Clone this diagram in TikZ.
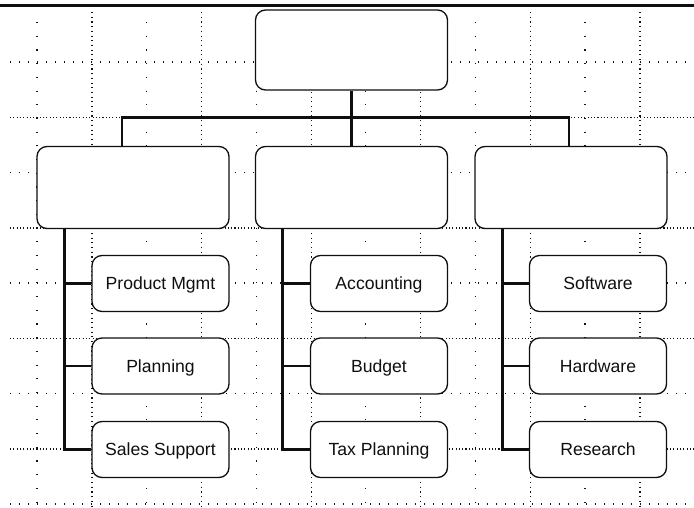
\documentclass[tikz,border=0pt]{standalone}
\usepackage{fontspec}
\usepackage{tikz}
\newfontfamily\boxfont{Liberation Sans}
\definecolor{ink}{RGB}{15, 15, 15}
\definecolor{dots}{RGB}{20, 20, 20}
\newcommand*{\gx}{109.6}
\newcommand*{\gy}{110.5}

\begin{document}
\begin{tikzpicture}[
   x=1pt, y=-1pt,
   parentbox/.style={rectangle, rounded corners=10pt, draw=ink, fill=white, line width=1.3,
                     inner sep=0, minimum width=192, minimum height=82},
   childbox/.style={rectangle, rounded corners=10pt, draw=ink, fill=white, line width=1.3,
                    inner sep=0, minimum width=137, minimum height=56, text=ink,
                    font={\boxfont\fontsize{17.6}{19}\selectfont}, text height=12.6, text depth=0},
   conn/.style={draw=ink, line width=2.9},
   majorv/.style={draw=dots, line width=1.1, dash pattern=on 1.1pt off 3.6pt},
   majorh/.style={draw=dots, line width=1.1, dash pattern=on 1.1pt off 2.2pt},
   minorv/.style={draw=dots, line width=1.1, dash pattern=on 1.1pt off 12.6pt},
   minorh/.style={draw=dots, line width=1.1, dash pattern=on 1.1pt off 7.9pt}
  ]

  \useasboundingbox (0, 0) rectangle (694, 507);

  % Grid
  \begin{scope}
    \foreach \k in {0,...,5} {
      \draw[majorv] (92 + \k * \gx, 12) -- (92 + \k * \gx, 507);
      \draw[minorv] (37 + \k * \gx, 22) -- (37 + \k * \gx, 507);
    }
    \foreach \k in {1,...,4} {
      \draw[majorh] (10, 7 + \k * \gy) -- (694, 7 + \k * \gy);
    }
    \foreach \k in {0,...,4} {
      \draw[minorh] (10, 62 + \k * \gy) -- (694, 62 + \k * \gy);
    }
  \end{scope}

  \draw[ink, line width=3.8] (0, 5.5) -- (694, 5.5);

  % Boxes
  \node (T) at (351.5, 50) [parentbox, minimum height=80] {};

  \node (L) at (133, 187.5) [parentbox] {};
  \node (M) at (351.5, 187.5) [parentbox] {};
  \node (R) at (571, 187.5) [parentbox] {};

  \node (L1) at (160.5, 283.5) [childbox] {Product Mgmt};
  \node (L2) at (160.5, 366) [childbox] {Planning};
  \node (L3) at (160.5, 449.5) [childbox] {Sales Support};

  \node (M1) at (379, 283.5) [childbox] {Accounting};
  \node (M2) at (379, 366) [childbox] {Budget};
  \node (M3) at (379, 449.5) [childbox] {Tax Planning};

  \node (R1) at (598, 283.5) [childbox] {Software};
  \node (R2) at (598, 366) [childbox] {Hardware};
  \node (R3) at (598, 449.5) [childbox] {Research};

  % Connectors
  \coordinate (bar) at (351.5, 117.5);
  \draw[conn] (T.south) -- (M.north);
  \draw[conn] ([xshift=-11pt]L.north) |- (bar) -| ([xshift=-2pt]R.north);

  \foreach \P/\C in {L/L1, L/L2, L/L3, M/M1, M/M2, M/M3, R/R1, R/R2, R/R3} {
    \draw[conn] ([xshift=28pt]\P.south west) |- (\C.west);
  }

\end{tikzpicture}
\end{document}
